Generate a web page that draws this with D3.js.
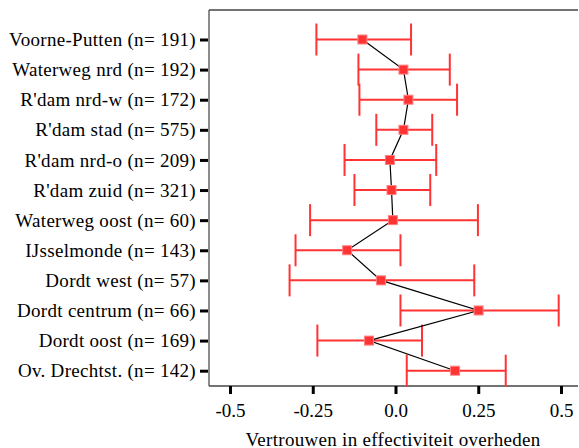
<!DOCTYPE html>
<html>
<head>
<meta charset="utf-8">
<script src="https://cdn.jsdelivr.net/npm/d3@7"></script>
<style>
  html, body { margin: 0; padding: 0; background: #fff; }
  svg { display: block; }
</style>
</head>
<body>
<svg id="chart" width="579" height="448"></svg>
<script>
// Regions with sample size
const regions = [
  "Voorne-Putten (n= 191)",
  "Waterweg nrd (n= 192)",
  "R'dam nrd-w (n= 172)",
  "R'dam stad (n= 575)",
  "R'dam nrd-o (n= 209)",
  "R'dam zuid (n= 321)",
  "Waterweg oost (n= 60)",
  "IJsselmonde (n= 143)",
  "Dordt west (n= 57)",
  "Dordt centrum (n= 66)",
  "Dordt oost (n= 169)",
  "Ov. Drechtst. (n= 142)"
];
// Mean score and interval bounds per region
const means = [-0.100, 0.024, 0.039, 0.024, -0.017, -0.012, -0.008, -0.146, -0.044, 0.251, -0.080, 0.180];
const lower = [-0.239, -0.112, -0.109, -0.058, -0.154, -0.124, -0.258, -0.302, -0.320, 0.015, -0.236, 0.034];
const upper = [0.047, 0.164, 0.186, 0.111, 0.123, 0.105, 0.249, 0.015, 0.238, 0.493, 0.080, 0.333];
const xTicks = [-0.5, -0.25, 0.0, 0.25, 0.5];
const xTickLabels = ["-0.5", "-0.25", "0.0", "0.25", "0.5"];
const xTitle = "Vertrouwen in effectiviteit overheden";

const rows = regions.map((r, i) => ({ region: r, mean: means[i], lo: lower[i], hi: upper[i] }));

const FONT = "'Liberation Serif', 'Times New Roman', serif";
const svg = d3.select("#chart").style("font-family", FONT);
const plotLeft = 209, plotRight = 578, plotTop = 10, plotBottom = 386;

const x = d3.scaleLinear().domain([-0.5, 0.5]).range([230, 561]);
const y = d3.scalePoint().domain(regions).range([39.5, 370.7]);

const red = "#ff3333";

// Frame: left, top and bottom lines
svg.append("line").attr("x1", plotLeft).attr("x2", plotLeft).attr("y1", plotTop).attr("y2", plotBottom)
  .attr("stroke", "#666").attr("stroke-width", 1.5);
svg.append("line").attr("x1", plotLeft).attr("x2", plotRight).attr("y1", plotTop).attr("y2", plotTop)
  .attr("stroke", "#444").attr("stroke-width", 1.5);
svg.append("line").attr("x1", plotLeft).attr("x2", plotRight).attr("y1", plotBottom).attr("y2", plotBottom)
  .attr("stroke", "#444").attr("stroke-width", 1.5);

// X axis
const xAxis = d3.axisBottom(x).tickValues(xTicks)
  .tickFormat((d, i) => xTickLabels[i]).tickSize(8).tickPadding(10);
const gx = svg.append("g").attr("transform", `translate(0,${plotBottom})`).call(xAxis)
  .attr("font-family", null);
gx.select(".domain").remove();
gx.selectAll(".tick line").attr("stroke", "#000").attr("stroke-width", 3);
gx.selectAll(".tick text").style("font-size", "19px").style("font-family", FONT).attr("fill", "#000");

// Y axis
const yAxis = d3.axisLeft(y).tickSize(8).tickPadding(4);
const gy = svg.append("g").attr("transform", `translate(${plotLeft - 1},0)`).call(yAxis)
  .attr("font-family", null);
gy.select(".domain").remove();
gy.selectAll(".tick line").attr("stroke", "#000").attr("stroke-width", 3);
gy.selectAll(".tick text").style("font-size", "19px").style("font-family", FONT)
  .style("letter-spacing", "0.3px").attr("fill", "#000");

// Axis title
svg.append("text").attr("x", 393).attr("y", 445.5)
  .attr("text-anchor", "middle").style("font-size", "19px").style("font-family", FONT)
  .style("letter-spacing", "0.3px").attr("fill", "#000").text(xTitle);

// Error bars
const eb = svg.append("g");
eb.selectAll("line.h").data(rows).join("line").attr("class", "h")
  .attr("x1", d => x(d.lo)).attr("x2", d => x(d.hi))
  .attr("y1", d => y(d.region)).attr("y2", d => y(d.region))
  .attr("stroke", red).attr("stroke-width", 2);
eb.selectAll("line.lc").data(rows).join("line").attr("class", "lc")
  .attr("x1", d => x(d.lo)).attr("x2", d => x(d.lo))
  .attr("y1", d => y(d.region) - 16).attr("y2", d => y(d.region) + 16)
  .attr("stroke", red).attr("stroke-width", 2);
eb.selectAll("line.hc").data(rows).join("line").attr("class", "hc")
  .attr("x1", d => x(d.hi)).attr("x2", d => x(d.hi))
  .attr("y1", d => y(d.region) - 16).attr("y2", d => y(d.region) + 16)
  .attr("stroke", red).attr("stroke-width", 2);

// Connecting line through the means
const line = d3.line().x(d => x(d.mean)).y(d => y(d.region));
svg.append("path").datum(rows).attr("d", line)
  .attr("fill", "none").attr("stroke", "#000").attr("stroke-width", 1.2);

// Mean markers
svg.append("g").selectAll("rect").data(rows).join("rect")
  .attr("x", d => x(d.mean) - 4.5).attr("y", d => y(d.region) - 4.5)
  .attr("width", 9).attr("height", 9)
  .attr("fill", red).attr("stroke", "#ff8080").attr("stroke-width", 1);
</script>
</body>
</html>
